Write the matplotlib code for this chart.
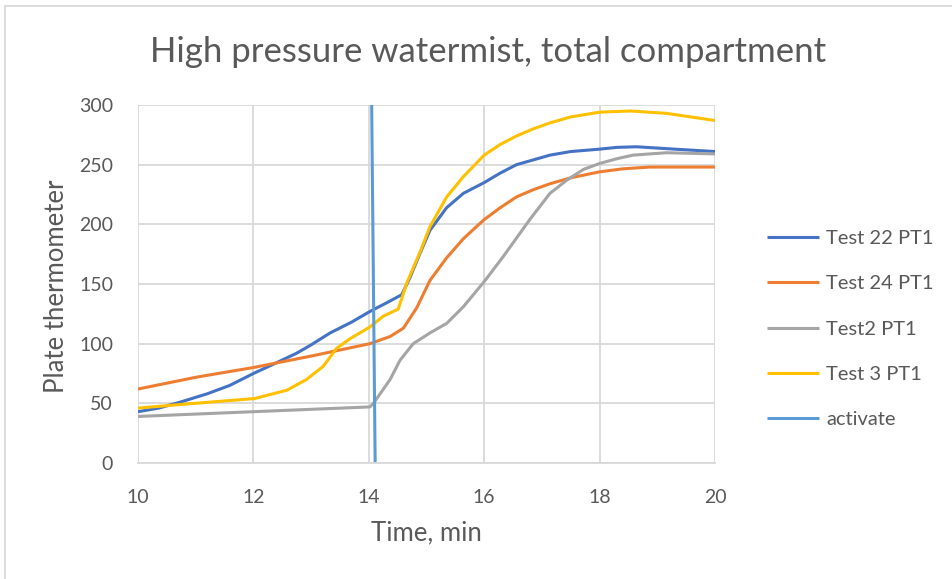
import matplotlib
matplotlib.use("Agg")
import matplotlib.pyplot as plt
from matplotlib.patches import Rectangle

plt.rcParams['font.family'] = ['Lato', 'DejaVu Sans']

title = "High pressure watermist, total compartment"
xlabel = "Time, min"
ylabel = "Plate thermometer"

# Test 22 PT1
t22_x = [10.0, 10.36, 10.73, 11.2, 11.59, 12.0, 12.4, 12.75, 13.0, 13.33, 13.7, 14.02, 14.3, 14.57, 14.71, 14.89, 15.06, 15.35, 15.64, 16.0, 16.28, 16.56, 16.85, 17.14, 17.5, 18.0, 18.3, 18.64, 19.3, 20.0]
t22_y = [43, 46, 51, 58, 65, 75, 84, 92, 99, 109, 118, 127, 134, 141, 155, 176, 195, 214, 226, 235, 243, 250, 254, 258, 261, 263, 264.5, 265, 263, 261]
# Test 24 PT1
t24_x = [10.0, 11.02, 12.0, 13.04, 14.02, 14.37, 14.6, 14.83, 15.06, 15.35, 15.64, 16.0, 16.28, 16.56, 16.85, 17.14, 17.5, 18.0, 18.4, 18.87, 20.0]
t24_y = [62, 72, 80, 90, 100, 106, 113, 130, 153, 172, 188, 204, 214, 223, 229, 234, 239, 244, 246.5, 248, 248]
# Test2 PT1
t2_x = [10.0, 12.0, 14.02, 14.08, 14.37, 14.54, 14.77, 15.06, 15.35, 15.64, 16.0, 16.33, 16.79, 17.14, 17.43, 17.72, 18.0, 18.3, 18.58, 19.16, 20.0]
t2_y = [39, 43, 47, 50, 70, 86, 100, 109, 117, 131, 152, 173, 204, 226, 237, 246, 251, 255, 258, 260, 259]
# Test 3 PT1
t3_x = [10.0, 10.73, 12.02, 12.58, 12.92, 13.21, 13.44, 13.67, 14.02, 14.25, 14.51, 14.66, 14.89, 15.06, 15.35, 15.64, 16.0, 16.28, 16.56, 16.85, 17.14, 17.5, 18.0, 18.53, 19.16, 20.0]
t3_y = [46, 49, 54, 61, 70, 81, 96, 104, 114, 123, 129, 151, 177, 198, 223, 240, 258, 267, 274, 280, 285, 290, 294, 295, 293, 287]
# activate
act_x = [14.05, 14.11]
act_y = [300, 0]

series = [
    ("Test 22 PT1", t22_x, t22_y, "#4472C4"),
    ("Test 24 PT1", t24_x, t24_y, "#ED7D31"),
    ("Test2 PT1", t2_x, t2_y, "#A5A5A5"),
    ("Test 3 PT1", t3_x, t3_y, "#FFC000"),
    ("activate", act_x, act_y, "#5B9BD5"),
]

xticks = [10, 12, 14, 16, 18, 20]
yticks = [0, 50, 100, 150, 200, 250, 300]

fig = plt.figure(figsize=(9.53, 5.79), dpi=100)
ax = fig.add_axes([138/953, 1-463/579, (715-138)/953, (463-105)/579])

for name, xs, ys, c in series:
    ax.plot(xs, ys, color=c, lw=2.2, label=name, solid_capstyle='butt', solid_joinstyle='round')

ax.set_xlim(10, 20)
ax.set_ylim(0, 300)
ax.set_xticks(xticks)
ax.set_yticks(yticks)
ax.grid(True, color="#D9D9D9", lw=1.3)
ax.set_axisbelow(True)
for s in ['top', 'right', 'left']:
    ax.spines[s].set_visible(False)
ax.spines['bottom'].set_color("#D9D9D9")
ax.spines['bottom'].set_linewidth(1.3)
ax.tick_params(length=0, labelsize=14, colors="#595959")
ax.tick_params(axis='x', pad=19)
ax.tick_params(axis='y', pad=18)

fig.text(426.5/953, 1-533/579, xlabel, fontsize=18.5, color="#595959", ha='center', va='center')
fig.text(57/953, 1-286/579, ylabel, fontsize=18.5, color="#595959", ha='center', va='center', rotation=90)
fig.text(488/953, 1-52/579, title, fontsize=25, color="#595959", ha='center', va='center')

leg = ax.legend(loc='center left', bbox_to_anchor=(767/953, 1-329/579), bbox_transform=fig.transFigure,
                frameon=False, fontsize=14.5, labelcolor="#595959", handlelength=2.6,
                labelspacing=1.4, handletextpad=0.35, borderpad=0, borderaxespad=0)

fig.patches.append(Rectangle((5/953, -0.05), 1.1, 1-6/579+0.05, transform=fig.transFigure,
                             fill=False, edgecolor="#D9D9D9", lw=1.3))

fig.savefig("out.png", dpi=100)
